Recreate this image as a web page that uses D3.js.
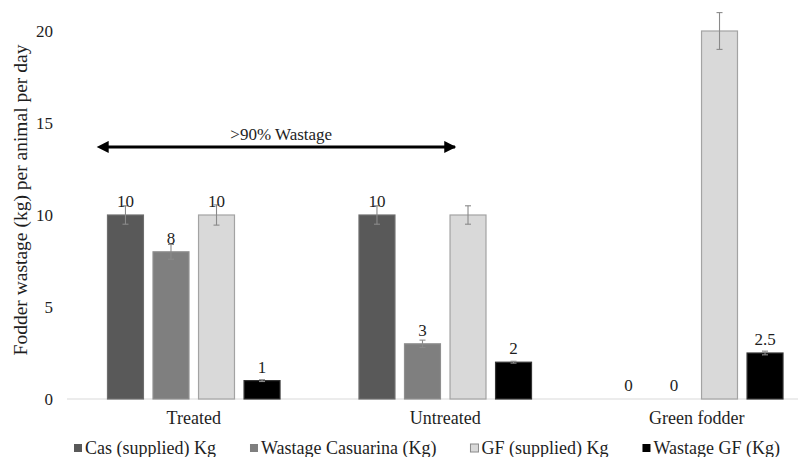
<!DOCTYPE html>
<html><head><meta charset="utf-8">
<script src="https://cdn.jsdelivr.net/npm/d3@7"></script>
<style>body{margin:0;background:#fff}svg{display:block}text{font-family:"Liberation Serif","Times New Roman",serif;fill:#1e1e1e}</style>
</head><body><svg id="c" width="798" height="457"></svg>
<script>
const categories = ["Treated", "Untreated", "Green fodder"];
const series = ["Cas (supplied) Kg", "Wastage Casuarina (Kg)", "GF (supplied) Kg", "Wastage GF (Kg)"];
const casSupplied = [10, 10, 0];
const wastageCas = [8, 3, 0];
const gfSupplied = [10, 10, 20];
const wastageGF = [1, 2, 2.5];
const casSuppliedErr = [0.5, 0.5, 0];
const wastageCasErr = [0.4, 0.2, 0];
const gfSuppliedErr = [0.55, 0.5, 1.0];
const wastageGFErr = [0.05, 0.05, 0.1];
const showLabel = [[true, true, true], [true, true, true], [true, false, false], [true, true, true]];
const yTicks = [0, 5, 10, 15, 20];
const annotationText = ">90% Wastage";
const annotationValue = 13.7;
const colors = ["#595959", "#7f7f7f", "#d9d9d9", "#000000"];
const strokes = ["#6e6e6e", "#8f8f8f", "#a3a3a3", "#333333"];

const values = [casSupplied, wastageCas, gfSupplied, wastageGF];
const errs = [casSuppliedErr, wastageCasErr, gfSuppliedErr, wastageGFErr];

const svg = d3.select("#c");
const y = d3.scaleLinear().domain([0, 20]).range([399, 31]);
const x0 = d3.scaleBand().domain(categories).range([68, 822.5]).paddingInner(0.314).paddingOuter(0.157);
const x1 = d3.scaleBand().domain(series).range([0, x0.bandwidth()]).paddingInner(0.21).paddingOuter(0);

// baseline
svg.append("line").attr("x1", 67).attr("x2", 798).attr("y1", y(0)).attr("y2", y(0))
  .attr("stroke", "#d9d9d9").attr("stroke-width", 1);

// y axis ticks (labels only)
const yAxis = d3.axisLeft(y).tickValues(yTicks).tickSize(0).tickPadding(0);
const gy = svg.append("g").attr("transform", "translate(53,0)").call(yAxis);
gy.select(".domain").remove();
gy.attr("font-family", null).attr("font-size", null);
gy.selectAll("text").attr("font-size", 17).attr("fill", "#2a2a2a").attr("dy", "0.34em");

// y title
svg.append("text").attr("transform", "translate(27,200) rotate(-90)").attr("text-anchor", "middle")
  .attr("font-size", 19.5).text("Fodder wastage (kg) per animal per day");

// bars
const data = [];
series.forEach((s, si) => categories.forEach((c, ci) => data.push({s, si, c, ci, v: values[si][ci], e: errs[si][ci], lab: showLabel[si][ci]})));

svg.append("g").selectAll("rect").data(data.filter(d => d.v > 0)).join("rect")
  .attr("x", d => x0(d.c) + x1(d.s)).attr("width", x1.bandwidth())
  .attr("y", d => y(d.v)).attr("height", d => y(0) - y(d.v))
  .attr("fill", d => colors[d.si]).attr("stroke", d => strokes[d.si]).attr("stroke-width", 1.2);

// error bars
const eg = svg.append("g").attr("stroke", "#8a8a8a").attr("stroke-width", 1.1);
data.filter(d => d.v > 0).forEach(d => {
  const cx = x0(d.c) + x1(d.s) + x1.bandwidth() / 2;
  eg.append("line").attr("x1", cx).attr("x2", cx).attr("y1", y(d.v + d.e)).attr("y2", y(d.v - d.e));
  eg.append("line").attr("x1", cx - 3).attr("x2", cx + 3).attr("y1", y(d.v + d.e)).attr("y2", y(d.v + d.e));
  eg.append("line").attr("x1", cx - 3).attr("x2", cx + 3).attr("y1", y(d.v - d.e)).attr("y2", y(d.v - d.e));
});

// value labels
svg.append("g").selectAll("text").data(data.filter(d => d.lab)).join("text")
  .attr("x", d => x0(d.c) + x1(d.s) + x1.bandwidth() / 2).attr("y", d => y(d.v) - 8)
  .attr("text-anchor", "middle").attr("font-size", 17).text(d => d.v);

// category labels
svg.append("g").selectAll("text").data(categories).join("text")
  .attr("x", c => x0(c) + x0.bandwidth() / 2).attr("y", 424).attr("text-anchor", "middle")
  .attr("font-size", 18).text(c => c);

// annotation arrow
const ax1 = x0("Treated") + x1(series[0]);
const ax2 = x0("Untreated") + x1(series[2]) + 5;
const ay = y(annotationValue);
const defs = svg.append("defs");
["s", "e"].forEach(k => {
  defs.append("marker").attr("id", "ar" + k).attr("viewBox", "0 0 10 10").attr("refX", k === "e" ? 9 : 1).attr("refY", 5)
    .attr("markerWidth", 4.5).attr("markerHeight", 4).attr("orient", k === "e" ? "auto" : "auto-start-reverse")
    .append("path").attr("d", "M0,0 L10,5 L0,10 z").attr("fill", "#000");
});
svg.append("line").attr("x1", ax1).attr("x2", ax2).attr("y1", ay).attr("y2", ay)
  .attr("stroke", "#000").attr("stroke-width", 3).attr("marker-start", "url(#ars)").attr("marker-end", "url(#are)");
svg.append("text").attr("x", (ax1 + ax2) / 2).attr("y", ay - 7).attr("text-anchor", "middle").attr("font-size", 17).text(annotationText);

// legend
const lg = svg.append("g");
let lx = 0;
series.forEach((s, i) => {
  const g = lg.append("g").attr("transform", `translate(${lx},0)`);
  g.append("rect").attr("x", 0).attr("y", -10).attr("width", 8).attr("height", 8)
    .attr("fill", colors[i]).attr("stroke", i === 2 ? "#8a8a8a" : "none").attr("stroke-width", 1);
  const t = g.append("text").attr("x", 11).attr("y", 0).attr("font-size", 18).text(s);
  lx += 11 + t.node().getComputedTextLength() + 34;
});
lx -= 34;
lg.attr("transform", `translate(${427 - lx / 2},454)`);
</script></body></html>
